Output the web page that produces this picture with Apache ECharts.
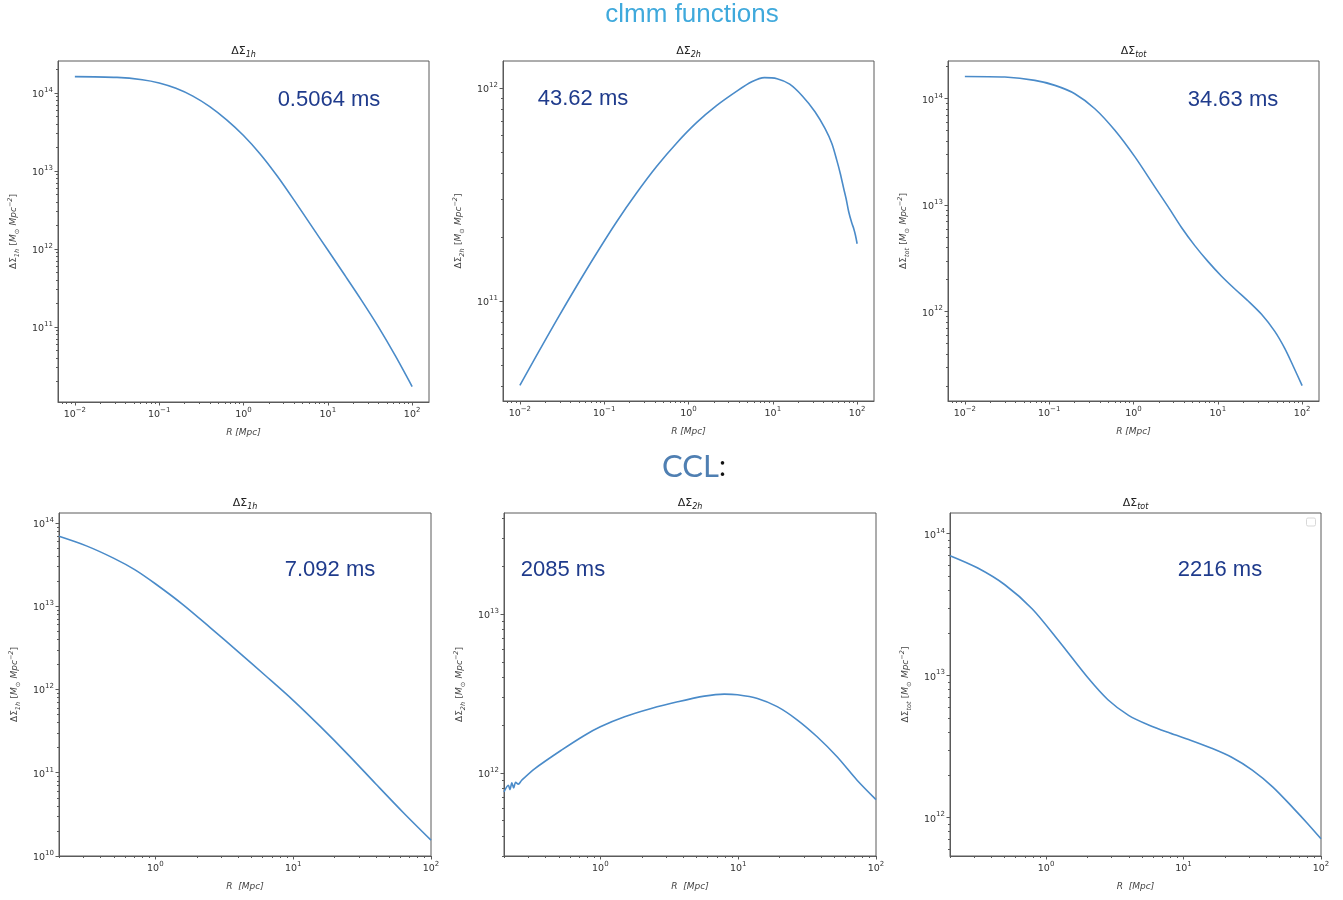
<!DOCTYPE html>
<html><head><meta charset="utf-8">
<script src="https://cdn.jsdelivr.net/npm/echarts@6/dist/echarts.min.js"></script>
<style>html,body{margin:0;padding:0;background:#fff}#c{width:1343px;height:900px}</style>
</head><body><div id="c"></div>
<script>
// ---------- data ----------
// clmm, 1-halo
const clmm1hR = [0.01, 0.0316, 0.0631, 0.1, 0.158, 0.251, 0.398, 0.631, 1, 1.585, 2.512, 3.981, 6.31, 10, 15.85, 25.12, 39.81, 63.1, 100];
const clmm1hS = [1.622e14, 1.585e14, 1.479e14, 1.343e14, 1.148e14, 9.12e13, 6.68e13, 4.52e13, 2.85e13, 1.641e13, 8.61e12, 4.22e12, 2.018e12, 9.66e11, 4.62e11, 2.188e11, 1.0e11, 4.27e10, 1.714e10];
// clmm, 2-halo
const clmm2hR = [0.01, 0.0158, 0.0272, 0.047, 0.0813, 0.14, 0.242, 0.418, 0.721, 1.245, 2.148, 3.707, 5.623, 7.943, 11.22, 15.85, 22.39, 31.62, 41.69, 50.12, 57.54, 63.1, 69.18, 74.13, 79.43, 86.1, 91.2, 95.5, 100];
const clmm2hS = [4.02e10, 5.56e10, 8.13e10, 1.175e11, 1.679e11, 2.355e11, 3.22e11, 4.29e11, 5.52e11, 6.89e11, 8.28e11, 9.66e11, 1.072e12, 1.122e12, 1.109e12, 1.045e12, 9.2e11, 7.76e11, 6.46e11, 5.5e11, 4.57e11, 3.98e11, 3.39e11, 3.02e11, 2.63e11, 2.34e11, 2.19e11, 2.04e11, 1.86e11];
// clmm, total
const clmmTotR = [0.01, 0.0298, 0.0676, 0.117, 0.201, 0.348, 0.601, 1.04, 1.79, 2.58, 3.71, 5.33, 7.67, 11.0, 15.8, 22.9, 33.0, 47.4, 62.2, 78.2, 100];
const clmmTotS = [1.618e14, 1.596e14, 1.486e14, 1.334e14, 1.114e14, 8.05e13, 5.05e13, 2.84e13, 1.486e13, 9.64e12, 6.17e12, 4.17e12, 2.95e12, 2.163e12, 1.641e12, 1.259e12, 9.44e11, 6.53e11, 4.52e11, 3.09e11, 2.02e11];
// CCL, 1-halo
const ccl1hR = [0.2, 0.316, 0.501, 0.708, 1, 1.585, 2.512, 3.981, 6.31, 10, 15.85, 25.12, 39.81, 63.1, 100];
const ccl1hS = [6.92e13, 5.31e13, 3.76e13, 2.754e13, 1.862e13, 1.047e13, 5.5e12, 2.85e12, 1.462e12, 7.41e11, 3.55e11, 1.641e11, 7.33e10, 3.31e10, 1.549e10];
// CCL, 2-halo
const ccl2hR = [0.2, 0.215, 0.221, 0.228, 0.235, 0.243, 0.254, 0.269, 0.335, 0.522, 0.771, 1, 1.5, 2.34, 3.64, 5.68, 7.93, 9.89, 13.8, 19.2, 26.9, 37.4, 52.2, 72.9, 100];
const ccl2hS = [7.59e11, 8.36e11, 7.85e11, 8.65e11, 8.04e11, 8.73e11, 8.49e11, 8.99e11, 1.064e12, 1.39e12, 1.726e12, 1.95e12, 2.254e12, 2.54e12, 2.8e12, 3.04e12, 3.13e12, 3.10e12, 2.94e12, 2.61e12, 2.15e12, 1.687e12, 1.262e12, 8.99e11, 6.79e11];
// CCL, total
const cclTotR = [0.2, 0.316, 0.501, 0.794, 1.259, 1.995, 2.818, 3.981, 5.623, 7.943, 11.22, 15.85, 22.39, 31.62, 44.67, 63.1, 79.43, 100];
const cclTotS = [7.0e13, 5.75e13, 4.37e13, 2.95e13, 1.718e13, 9.77e12, 6.76e12, 5.25e12, 4.47e12, 3.94e12, 3.51e12, 3.09e12, 2.66e12, 2.16e12, 1.64e12, 1.161e12, 9.12e11, 7.08e11];

const panelTitles = ['1h', '2h', 'tot', '1h', '2h', 'tot'];
const timings = ['0.5064 ms', '43.62 ms', '34.63 ms', '7.092 ms', '2085 ms', '2216 ms'];
const xAxisNames = ['R [Mpc]', 'R [Mpc]', 'R [Mpc]', 'R  [Mpc]', 'R  [Mpc]', 'R  [Mpc]'];

// ---------- layout ----------
const panels = [
  {R: clmm1hR, S: clmm1hS, grid: [58, 61, 371, 341], x: [Math.pow(10, -2.2), Math.pow(10, 2.2)], y: [Math.pow(10, 10.036), Math.pow(10, 14.41)], t: [329, 100]},
  {R: clmm2hR, S: clmm2hS, grid: [503, 61, 371, 340], x: [Math.pow(10, -2.2), Math.pow(10, 2.2)], y: [Math.pow(10, 10.531), Math.pow(10, 12.128)], t: [583, 99]},
  {R: clmmTotR, S: clmmTotS, grid: [948, 61, 371, 340], x: [Math.pow(10, -2.2), Math.pow(10, 2.2)], y: [Math.pow(10, 11.161), Math.pow(10, 14.354)], t: [1233, 100]},
  {R: ccl1hR, S: ccl1hS, grid: [59, 513, 372, 343], x: [0.2, 100], y: [1e10, Math.pow(10, 14.12)], t: [330, 570]},
  {R: ccl2hR, S: ccl2hS, grid: [504, 513, 372, 343], x: [0.2, 100], y: [Math.pow(10, 11.477), Math.pow(10, 13.635)], t: [563, 570]},
  {R: cclTotR, S: cclTotS, grid: [950, 513, 371, 343], x: [0.2, 100], y: [Math.pow(10, 11.729), Math.pow(10, 14.146)], t: [1220, 570]}
];

function decades(min, max) {
  const a = [];
  for (let e = Math.ceil(Math.log10(min) - 1e-9); e <= Math.floor(Math.log10(max) + 1e-9); e++) a.push(Math.pow(10, e));
  return a;
}
function minors(min, max) {
  const a = [];
  for (let e = Math.floor(Math.log10(min)); e <= Math.ceil(Math.log10(max)); e++)
    for (let k = 2; k <= 9; k++) { const v = k * Math.pow(10, e); if (v >= min && v <= max) a.push(v); }
  return a;
}
function expLabel(v) {
  const e = Math.round(Math.log10(v));
  return '{b|10}{p|' + (e < 0 ? '\u2212' + (-e) : e) + '}';
}
const tickRich = {
  b: {fontFamily: 'DejaVu Sans', fontSize: 9.5, color: '#333', lineHeight: 13, verticalAlign: 'bottom'},
  p: {fontFamily: 'DejaVu Sans', fontSize: 7, color: '#333', lineHeight: 13, verticalAlign: 'top'}
};
const nameRich = {
  n: {fontFamily: 'DejaVu Sans', fontSize: 9, color: '#444', lineHeight: 14},
  s: {fontFamily: 'DejaVu Sans', fontSize: 6.5, color: '#444', fontStyle: 'italic', lineHeight: 14, verticalAlign: 'bottom'},
  i: {fontFamily: 'DejaVu Sans', fontSize: 9, color: '#444', fontStyle: 'italic', lineHeight: 14},
  p: {fontFamily: 'DejaVu Sans', fontSize: 6.5, color: '#444', fontStyle: 'italic', lineHeight: 14, verticalAlign: 'top'}
};
const axisColor = '#5a5a5a';
const lineColor = '#4a8bc9';

const grids = [], xAxes = [], yAxes = [], series = [], graphics = [];
panels.forEach((p, i) => {
  grids.push({left: p.grid[0], top: p.grid[1], width: p.grid[2], height: p.grid[3], show: true, borderColor: axisColor, borderWidth: 1, containLabel: false});
  const xMaj = decades(p.x[0], p.x[1]), yMaj = decades(p.y[0], p.y[1]);
  xAxes.push({
    type: 'log', logBase: 10, gridIndex: i, min: p.x[0], max: p.x[1], position: 'bottom',
    axisLine: {show: true, lineStyle: {color: axisColor}},
    axisTick: {show: true, length: 3.5, lineStyle: {color: axisColor}, customValues: xMaj},
    axisLabel: {show: true, margin: 5, customValues: xMaj, formatter: expLabel, rich: tickRich},
    splitLine: {show: false},
    name: xAxisNames[i], nameLocation: 'middle', nameGap: 26,
    nameTextStyle: {fontFamily: 'DejaVu Sans', fontSize: 9, fontStyle: 'italic', color: '#444'}
  });
  xAxes.push({
    type: 'log', logBase: 10, gridIndex: i, min: p.x[0], max: p.x[1], position: 'bottom', offset: 0,
    axisLine: {show: false}, axisLabel: {show: false}, splitLine: {show: false},
    axisTick: {show: true, length: 2, lineStyle: {color: axisColor}, customValues: minors(p.x[0], p.x[1])}
  });
  const sub = panelTitles[i];
  yAxes.push({
    type: 'log', logBase: 10, gridIndex: i, min: p.y[0], max: p.y[1], position: 'left',
    axisLine: {show: true, lineStyle: {color: axisColor}},
    axisTick: {show: true, length: 3.5, lineStyle: {color: axisColor}, customValues: yMaj},
    axisLabel: {show: true, margin: 5, customValues: yMaj, formatter: expLabel, rich: tickRich},
    splitLine: {show: false},
    name: '{n|\u0394\u03a3}{s|' + sub + '} {n|[}{i|M}{s|\u2299} {i|Mpc}{p|\u22122}{n|]}',
    nameLocation: 'middle', nameGap: 37, nameRotate: 90,
    nameTextStyle: {rich: nameRich}
  });
  yAxes.push({
    type: 'log', logBase: 10, gridIndex: i, min: p.y[0], max: p.y[1], position: 'left', offset: 0,
    axisLine: {show: false}, axisLabel: {show: false}, splitLine: {show: false},
    axisTick: {show: true, length: 2, lineStyle: {color: axisColor}, customValues: minors(p.y[0], p.y[1])}
  });
  series.push({
    type: 'line', xAxisIndex: 2 * i, yAxisIndex: 2 * i,
    data: p.R.map((r, k) => [r, p.S[k]]),
    showSymbol: false, smooth: 0.3,
    lineStyle: {color: lineColor, width: 1.6}, itemStyle: {color: lineColor},
    silent: true, animation: false
  });
  // panel title
  graphics.push({
    type: 'text', x: p.grid[0] + p.grid[2] / 2, y: p.grid[1] - 10,
    style: {
      text: '{a|\u0394\u03a3}{b|' + sub + '}', align: 'center', verticalAlign: 'middle',
      rich: {
        a: {fontFamily: 'DejaVu Sans', fontSize: 11, fill: '#222', lineHeight: 16},
        b: {fontFamily: 'DejaVu Sans', fontSize: 8, fontStyle: 'italic', fill: '#222', lineHeight: 16, verticalAlign: 'bottom'}
      }
    }
  });
  // timing annotation
  graphics.push({
    type: 'text', x: p.t[0], y: p.t[1],
    style: {text: timings[i], align: 'center', verticalAlign: 'middle', fontFamily: 'Liberation Sans', fontSize: 22, fill: '#1f3b8c'}
  });
});

graphics.push({
  type: 'text', x: 692, y: 15,
  style: {text: 'clmm functions', align: 'center', verticalAlign: 'middle', fontFamily: 'Liberation Sans', fontSize: 26, fill: '#3fa9dc'}
});
graphics.push({
  type: 'text', x: 694, y: 467,
  style: {
    text: '{a|CCL}{b|:}', align: 'center', verticalAlign: 'middle',
    rich: {
      a: {fontFamily: 'Lato', fontSize: 31, fill: '#4f7fb2'},
      b: {fontFamily: 'Lato', fontSize: 28, fill: '#111'}
    }
  }
});
// empty legend box in the last panel
graphics.push({type: 'rect', shape: {x: 1306.5, y: 518, width: 9, height: 8, r: 1.5}, style: {fill: '#fff', stroke: '#d8d8d8', lineWidth: 1}});

const chart = echarts.init(document.getElementById('c'), null, {renderer: 'canvas'});
chart.setOption({
  animation: false,
  backgroundColor: '#fff',
  grid: grids, xAxis: xAxes, yAxis: yAxes, series: series, graphic: graphics
});
</script></body></html>
